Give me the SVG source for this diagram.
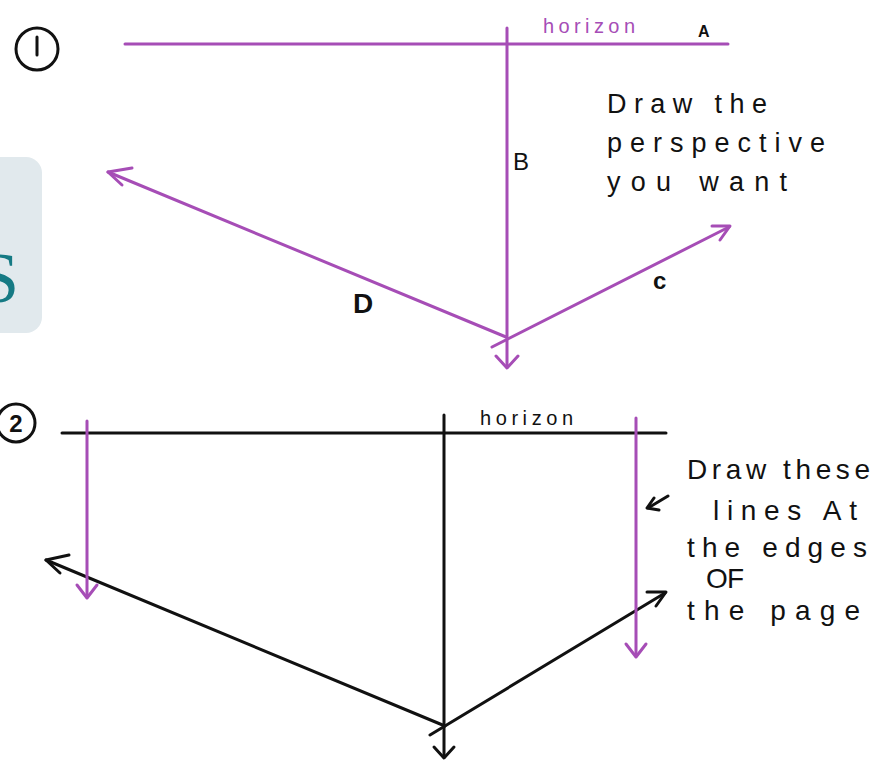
<svg xmlns="http://www.w3.org/2000/svg" width="890" height="761" viewBox="0 0 890 761">
<style>
.p{stroke:#a64db6;stroke-width:3;fill:none;stroke-linecap:round;stroke-linejoin:round}
.k{stroke:#111;stroke-width:3;fill:none;stroke-linecap:round;stroke-linejoin:round}
.hw{font-family:"Liberation Sans","DejaVu Sans",sans-serif;fill:#111}
.ph{font-family:"Liberation Sans","DejaVu Sans",sans-serif;fill:#a64db6}
</style>
<rect width="890" height="761" fill="#fff"/>
<g id="sidebox">
<rect x="-30" y="157" width="72" height="176" rx="16" fill="#e1e9ed"/>
<text x="19" y="302" text-anchor="end" font-family="Liberation Serif,serif" font-size="72" fill="#157a84">S</text>
</g>
<g id="step1">
<circle cx="37" cy="49" r="21" fill="none" stroke="#111" stroke-width="3"/>
<line x1="37" y1="37" x2="37" y2="55" stroke="#111" stroke-width="3" stroke-linecap="round"/>
</g>
<g id="step2">
<circle cx="16" cy="423" r="19" fill="none" stroke="#111" stroke-width="3"/>
<text x="16" y="432" text-anchor="middle" class="hw" font-size="24" font-weight="bold">2</text>
</g>
<g id="connectors">
<!-- panel 1 -->
<line class="p" x1="125" y1="44" x2="728" y2="44"/>
<line class="p" x1="507" y1="28" x2="507" y2="367"/>
<polyline class="p" points="496,356 507,368 518,356"/>
<line class="p" x1="506" y1="337" x2="108" y2="172"/>
<polyline class="p" points="132,168 108,172 122,185"/>
<line class="p" x1="492" y1="347" x2="729" y2="227"/>
<polyline class="p" points="712,226 730,226 720,240"/>
<!-- panel 2 -->
<line class="k" x1="62" y1="433" x2="666" y2="433"/>
<line class="k" x1="444" y1="415" x2="444" y2="757"/>
<polyline class="k" points="434,747 444,758 454,747"/>
<line class="k" x1="445" y1="726" x2="46" y2="560"/>
<polyline class="k" points="69,555 46,560 60,573"/>
<line class="k" x1="430" y1="735" x2="665" y2="593"/>
<polyline class="k" points="647,592 666,592 656,606"/>
<line class="p" x1="87" y1="421" x2="87" y2="597"/>
<polyline class="p" points="77,585 87,598 97,585"/>
<line class="p" x1="636" y1="418" x2="636" y2="656"/>
<polyline class="p" points="626,644 636,657 646,644"/>
<line class="k" x1="668" y1="496" x2="648" y2="508" stroke-width="2.5"/>
<polyline class="k" points="654,498 647,508 659,510" stroke-width="2.5"/>
</g>
<g id="labels1">
<text x="543" y="33" class="ph" font-size="20" textLength="92" lengthAdjust="spacing">horizon</text>
<text x="698" y="37" class="hw" font-size="16" font-weight="bold">A</text>
<text x="513" y="170" class="hw" font-size="24">B</text>
<text x="353" y="313" class="hw" font-size="28" font-weight="bold">D</text>
<text x="653" y="289" class="hw" font-size="24" font-weight="bold">c</text>
<text class="hw" font-size="27"><tspan x="607" y="113" textLength="160" lengthAdjust="spacing">Draw the</tspan><tspan x="607" y="152" textLength="218" lengthAdjust="spacing">perspective</tspan><tspan x="607" y="191" textLength="180" lengthAdjust="spacing">you want</tspan></text>
</g>
<g id="labels2">
<text x="480" y="425" class="hw" font-size="20" textLength="93" lengthAdjust="spacing">horizon</text>
<text class="hw" font-size="28"><tspan x="687" y="479" textLength="183" lengthAdjust="spacing">Draw these</tspan><tspan x="713" y="520" textLength="144" lengthAdjust="spacing">lines At</tspan><tspan x="687" y="557" textLength="180" lengthAdjust="spacing">the edges</tspan><tspan x="706" y="588" textLength="38" lengthAdjust="spacing">OF</tspan><tspan x="687" y="620" textLength="173" lengthAdjust="spacing">the page</tspan></text>
</g>
</svg>
